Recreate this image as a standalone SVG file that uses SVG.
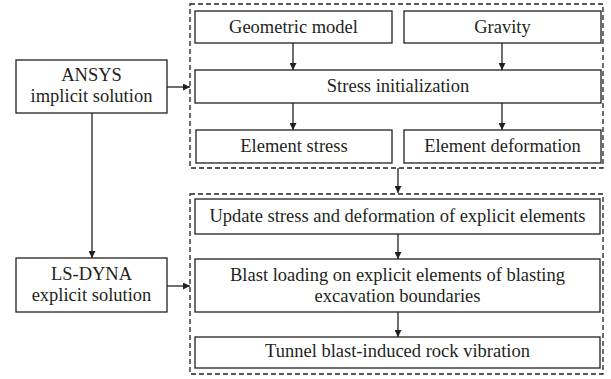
<svg xmlns="http://www.w3.org/2000/svg" width="611" height="379" viewBox="0 0 611 379">
<defs>
<marker id="ah" viewBox="0 0 10 10" refX="10" refY="5" markerWidth="7" markerHeight="7" markerUnits="userSpaceOnUse" orient="auto"><path d="M0,0 L10,5 L0,10 z" fill="#231f20"/></marker>
<style>
.box{fill:#fff;stroke:#231f20;stroke-width:1.3}
.dash{fill:none;stroke:#231f20;stroke-width:1.3;stroke-dasharray:5,3}
.t{font-family:"Liberation Serif","Times New Roman",serif;font-size:18.5px;fill:#231f20;text-anchor:middle}
.c{fill:none;stroke:#231f20;stroke-width:1.3}
</style>
</defs>
<rect width="611" height="379" fill="#fff"/>
<g id="group-top"><rect class="dash" x="190" y="4" width="413" height="164"/></g>
<g id="group-bottom"><rect class="dash" x="190" y="194" width="413" height="180"/></g>
<g id="ansys"><rect class="box" x="16" y="60" width="151" height="53"/><text class="t" x="91.5" y="81">ANSYS</text><text class="t" x="91.5" y="102">implicit solution</text></g>
<g id="lsdyna"><rect class="box" x="16" y="258" width="151" height="54"/><text class="t" x="91.5" y="280">LS-DYNA</text><text class="t" x="91.5" y="301">explicit solution</text></g>
<g id="geometric"><rect class="box" x="195" y="11" width="197" height="32"/><text class="t" x="293.5" y="33">Geometric model</text></g>
<g id="gravity"><rect class="box" x="404" y="11" width="197" height="32"/><text class="t" x="502.5" y="33">Gravity</text></g>
<g id="stressinit"><rect class="box" x="195" y="70" width="406" height="33"/><text class="t" x="398" y="92">Stress initialization</text></g>
<g id="elemstress"><rect class="box" x="196" y="130" width="196" height="33"/><text class="t" x="294" y="152">Element stress</text></g>
<g id="elemdef"><rect class="box" x="404" y="130" width="197" height="33"/><text class="t" x="502.5" y="152">Element deformation</text></g>
<g id="update"><rect class="box" x="195" y="199" width="405" height="35"/><text class="t" x="397.5" y="222">Update stress and deformation of explicit elements</text></g>
<g id="blast"><rect class="box" x="195" y="259" width="405" height="53"/><text class="t" x="397.5" y="281">Blast loading on explicit elements of blasting</text><text class="t" x="397.5" y="302">excavation boundaries</text></g>
<g id="tunnel"><rect class="box" x="195" y="337" width="405" height="31"/><text class="t" x="397.5" y="357">Tunnel blast-induced rock vibration</text></g>
<g id="connectors">
<line class="c" x1="293" y1="43" x2="293" y2="70" marker-end="url(#ah)"/>
<line class="c" x1="502" y1="43" x2="502" y2="70" marker-end="url(#ah)"/>
<line class="c" x1="293" y1="103" x2="293" y2="130" marker-end="url(#ah)"/>
<line class="c" x1="502" y1="103" x2="502" y2="130" marker-end="url(#ah)"/>
<line class="c" x1="167" y1="87" x2="190" y2="87" marker-end="url(#ah)"/>
<line class="c" x1="92" y1="113" x2="92" y2="258" marker-end="url(#ah)"/>
<line class="c" x1="167" y1="286" x2="190" y2="286" marker-end="url(#ah)"/>
<line class="c" x1="398" y1="168" x2="398" y2="193" marker-end="url(#ah)"/>
<line class="c" x1="398" y1="234" x2="398" y2="259" marker-end="url(#ah)"/>
<line class="c" x1="398" y1="312" x2="398" y2="337" marker-end="url(#ah)"/>
</g>
</svg>
